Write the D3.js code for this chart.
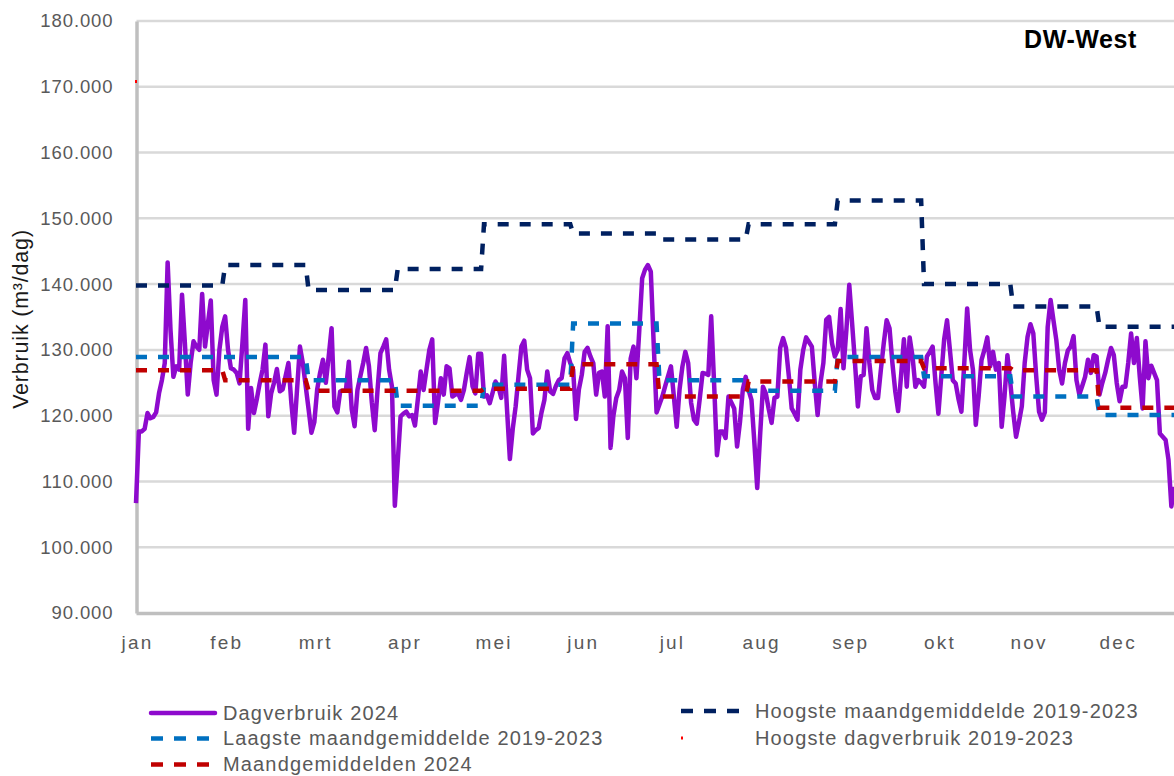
<!DOCTYPE html>
<html>
<head>
<meta charset="utf-8">
<script src="https://cdn.jsdelivr.net/npm/d3@7"></script>
<style>
  html, body { margin: 0; padding: 0; background: #ffffff; }
  svg { display: block; font-family: "Liberation Sans", Arial, sans-serif; }
</style>
</head>
<body>
<svg id="chart" width="1174" height="776"></svg>
<script>
// ---- data -------------------------------------------------------------
const monthLabels = ["jan", "feb", "mrt", "apr", "mei", "jun", "jul", "aug", "sep", "okt", "nov", "dec"];
const daysPerMonth = [31, 29, 31, 30, 31, 30, 31, 31, 30, 31, 30, 31];
const labelInterval = 31; // a month label every 31 days
const yTicks = [90000, 100000, 110000, 120000, 130000, 140000, 150000, 160000, 170000, 180000];

// daily consumption 2024 (m3/dag)
const dagverbruik2024 = [
  106700, 117600, 117600, 118000, 120400, 119600, 119800, 120500, 123400, 125400, 128000, 143300, 133000, 125900, 127500, 127000,
  138400, 131000, 123200, 128000, 131300, 130500, 130000, 138500, 130500, 134000, 137500, 125400, 123200, 130000, 133500,
  135100, 130000, 127200, 127000, 126500, 124900, 131000, 137600, 118000, 124200, 120400, 122500, 124900, 127000, 130800,
  119900, 123400, 125000, 127100, 123700, 124000, 126000, 128000, 122000, 117400, 124000, 130500, 128000, 124500,
  121000, 117400, 119000, 124000, 126500, 128500, 125000, 129000, 133300, 121400, 120500, 123700, 123800, 123900, 128200,
  121000, 118400, 123900, 126000, 128000, 130300, 127500, 122000, 117800, 124000, 129500, 130500, 131600, 127000, 124400, 106300,
  113000, 119900, 120300, 120600, 119900, 120100, 118500, 122500, 126700, 123900, 127000, 130000, 131600, 118900, 122000,
  125700, 123200, 127500, 127200, 122900, 123200, 123400, 122400, 123900, 126500, 128900, 124500, 123400, 129400, 129400,
  122900, 123100, 121900, 123500, 125200, 124400, 122700, 129100, 121000, 113400, 118000, 121400, 126000, 130500, 131400,
  127000, 125700, 117300, 117800, 118100, 120500, 122400, 126700, 123700, 123300, 124500, 125400, 125700, 128700, 129500, 128000,
  127000, 119500, 124000, 126200, 129700, 130300, 129000, 128000, 123200, 126500, 126700, 122900, 133600, 115100, 120000,
  122700, 123900, 126700, 125700, 116600, 128700, 130500, 125700, 133000, 140900, 142200, 142900, 141900, 131000, 120500,
  121700, 122900, 124500, 126000, 127500, 123000, 118300, 124000, 127500, 129700, 128000, 122000, 119400, 118800, 122500,
  126500, 126400, 126200, 135100, 125000, 114000, 117600, 117600, 116600, 122900, 122000, 121100, 115300, 119000, 124000, 125900,
  123900, 122400, 116000, 109000, 117000, 124400, 123400, 121000, 118900, 122700, 122900, 130300, 131800, 130300, 126000,
  121100, 120300, 119400, 127000, 130000, 131900, 131200, 130500, 125000, 120100, 125000, 128000, 134600, 135000, 131000, 129000,
  130000, 136200, 127200, 133000, 139900, 134000, 128000, 121400, 126000, 126200, 133300, 128000, 123900, 122700, 122700,
  127000, 131000, 134500, 133300, 128000, 123700, 120700, 126000, 131600, 124400, 131900, 129000, 124400, 125400, 125000,
  124400, 129000, 129700, 130500, 125000, 120300, 126000, 131600, 134500, 130000, 125400, 124900, 122500, 120600, 128000,
  136300, 130000, 127000, 118600, 123000, 128500, 130000, 131900, 127500, 129700, 127000, 128000, 118300, 123000, 129200, 125000,
  120600, 116800, 119000, 121400, 128000, 132000, 133900, 132500, 126000, 120600, 119400, 120500, 133500, 137600, 134500,
  131500, 127000, 124900, 128000, 129900, 130500, 132100, 125400, 123200, 124500, 125900, 128500, 126500, 129200, 129000,
  123200, 125000, 126500, 128500, 130300, 129200, 125000, 122200, 124400, 124400, 128000, 132500, 128000, 131800, 126000,
  121100, 131300, 125700, 127600, 126500, 125400, 117300, 116800, 116300, 113300, 106200, 109200
];

// monthly averages (m3/dag)
const hoogsteMaandgemiddelde = [139800, 142900, 139100, 142300, 149100, 147700, 146800, 149100, 152700, 140000, 136600, 133500];
const laagsteMaandgemiddelde = [128900, 128900, 125400, 121500, 124700, 134000, 125400, 123800, 128900, 126000, 122900, 120100];
const maandgemiddelden2024 = [126900, 125400, 123800, 123800, 124100, 127800, 122900, 125200, 128300, 127200, 126900, 121200];

// highest single day 2019-2023
const hoogsteDagverbruik = [{ dag: 0, waarde: 170800 }];

// ---- layout -------------------------------------------------------------
const svg = d3.select("#chart");
const W = 1174;
const plotLeft = 136.5, plotTop = 21, plotBottom = 613;
const dayWidth = 2.876;

const x = d3.scaleLinear().domain([0, 365]).range([136, 136 + 365 * dayWidth]);
const y = d3.scaleLinear().domain([90000, 180000]).range([plotBottom, plotTop]);

const nl = d3.formatLocale({ decimal: ",", thousands: ".", grouping: [3], currency: ["€", ""] });
const fmt = nl.format(",.0f");

const colors = {
  dag: "#8E0ACD",
  hoog: "#002060",
  laag: "#0070C0",
  gem: "#C00000",
  piek: "#FF0000"
};

// horizontal gridlines
svg.append("g")
  .selectAll("line")
  .data(yTicks.filter(t => t !== 90000))
  .join("line")
  .attr("x1", plotLeft).attr("x2", W)
  .attr("y1", d => y(d)).attr("y2", d => y(d))
  .attr("stroke", "#D9D9D9")
  .attr("stroke-width", 2.5);

// y axis
const yAxis = svg.append("g")
  .attr("transform", `translate(${plotLeft},0)`)
  .call(d3.axisLeft(y).tickValues(yTicks).tickFormat(fmt).tickSize(0).tickSizeOuter(0).tickPadding(23));
yAxis.select(".domain").attr("stroke", "#BFBFBF").attr("stroke-width", 3.5);
yAxis.selectAll("text")
  .attr("fill", "#595959")
  .style("font-size", "18.5px")
  .style("letter-spacing", "0.9px");

// x axis
const xTickDays = monthLabels.map((m, i) => i * labelInterval);
const xAxis = svg.append("g")
  .attr("transform", `translate(0,${plotBottom})`)
  .call(d3.axisBottom(x).tickValues(xTickDays).tickFormat((d, i) => monthLabels[i]).tickSize(0).tickSizeOuter(0).tickPadding(23));
xAxis.select(".domain").attr("stroke", "#BFBFBF").attr("stroke-width", 3.5);
xAxis.selectAll("text")
  .attr("fill", "#595959")
  .attr("dx", "1px")
  .style("font-size", "19px")
  .style("letter-spacing", "2.2px");

// y axis title
svg.append("text")
  .attr("transform", "translate(28,319) rotate(-90)")
  .attr("text-anchor", "middle")
  .attr("fill", "#1A1A1A")
  .style("font-size", "21.5px")
  .style("letter-spacing", "0.8px")
  .text("Verbruik (m³/dag)");

// title
svg.append("text")
  .attr("x", 1137).attr("y", 48)
  .attr("text-anchor", "end")
  .attr("fill", "#000000")
  .style("font-size", "25px")
  .style("font-weight", "bold")
  .style("letter-spacing", "0.6px")
  .text("DW-West");

// ---- series -------------------------------------------------------------
const dayLine = d3.line().x((d, i) => x(i)).y(d => y(d));
const perDay = monthly => monthly.flatMap((v, i) => Array(daysPerMonth[i]).fill(v));

svg.append("path")
  .datum(dagverbruik2024)
  .attr("d", dayLine)
  .attr("fill", "none")
  .attr("stroke", colors.dag)
  .attr("stroke-width", 4.5)
  .attr("stroke-linejoin", "round");

const stepSeries = [
  { values: hoogsteMaandgemiddelde, color: colors.hoog },
  { values: laagsteMaandgemiddelde, color: colors.laag },
  { values: maandgemiddelden2024, color: colors.gem }
];
svg.append("g")
  .selectAll("path")
  .data(stepSeries)
  .join("path")
  .attr("d", s => dayLine(perDay(s.values)))
  .attr("fill", "none")
  .attr("stroke", s => s.color)
  .attr("stroke-width", 4.5)
  .attr("stroke-dasharray", "11 11");

svg.append("g")
  .selectAll("rect")
  .data(hoogsteDagverbruik)
  .join("rect")
  .attr("x", d => x(d.dag) - 1).attr("y", d => y(d.waarde) - 1.5)
  .attr("width", 2).attr("height", 3)
  .attr("fill", colors.piek);

// ---- legend -------------------------------------------------------------
const legendItems = [
  { label: "Dagverbruik 2024", color: colors.dag, kind: "solid", x: 151, y: 713 },
  { label: "Laagste maandgemiddelde 2019-2023", color: colors.laag, kind: "dash", x: 151, y: 738.5 },
  { label: "Maandgemiddelden 2024", color: colors.gem, kind: "dash", x: 151, y: 764.5 },
  { label: "Hoogste maandgemiddelde 2019-2023", color: colors.hoog, kind: "dash", x: 681, y: 711 },
  { label: "Hoogste dagverbruik 2019-2023", color: colors.piek, kind: "dot", x: 681, y: 738 }
];
const legend = svg.append("g").selectAll("g").data(legendItems).join("g");
legend.filter(d => d.kind !== "dot").append("line")
  .attr("x1", d => d.x).attr("x2", d => d.x + (d.kind === "solid" ? 64 : 58))
  .attr("y1", d => d.y).attr("y2", d => d.y)
  .attr("stroke", d => d.color)
  .attr("stroke-width", 4.5)
  .attr("stroke-linecap", d => d.kind === "solid" ? "round" : "butt")
  .attr("stroke-dasharray", d => d.kind === "dash" ? "12 11" : null);
legend.filter(d => d.kind === "dot").append("rect")
  .attr("x", d => d.x).attr("y", d => d.y - 1.5)
  .attr("width", 2).attr("height", 3)
  .attr("fill", d => d.color);
legend.append("text")
  .attr("x", d => d.x < 400 ? 223 : 755)
  .attr("y", d => d.y + 6.8)
  .attr("fill", "#595959")
  .style("font-size", "20px")
  .style("letter-spacing", "1.15px")
  .text(d => d.label);
</script>
</body>
</html>
